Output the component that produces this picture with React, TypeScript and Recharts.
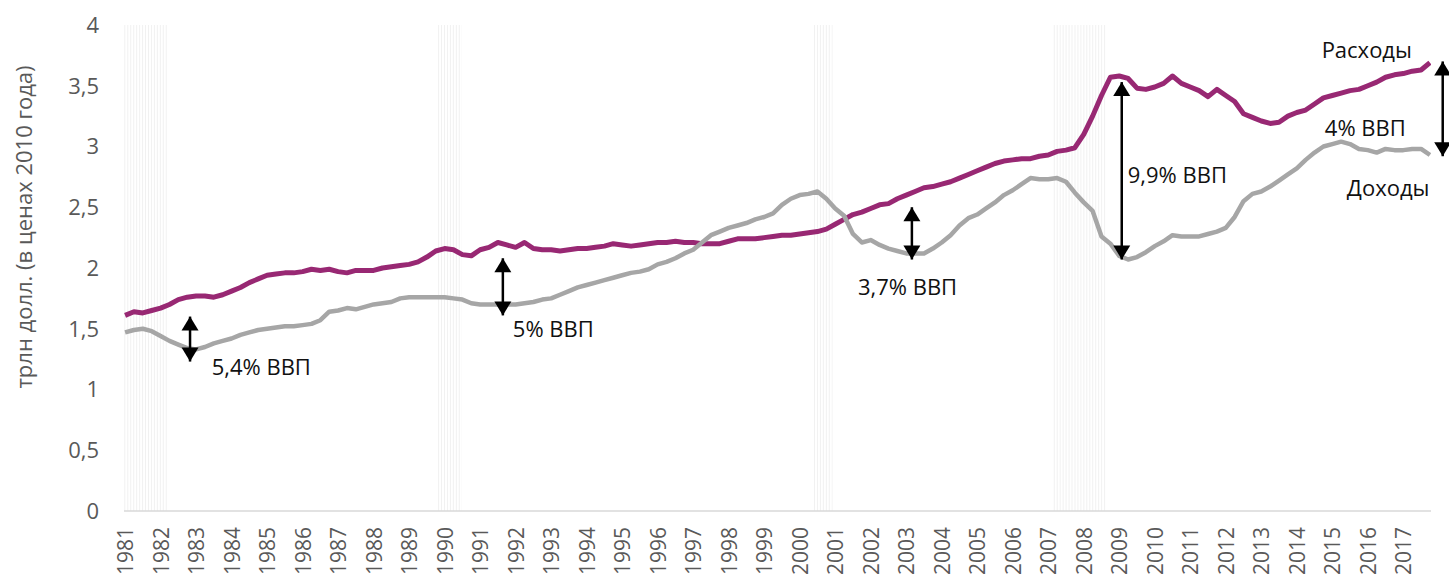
import React from 'react';
import {
  ComposedChart,
  Line,
  XAxis,
  YAxis,
  ReferenceArea,
  ReferenceLine,
  ReferenceDot,
} from 'recharts';

// Quarterly observations, first quarter of 1981 to last quarter of 2017
const startYear = 1981;

// Federal outlays ("Расходы"), trillions of 2010 dollars
const expenses = [
  1.61, 1.64, 1.63, 1.65,
  1.67, 1.70, 1.74, 1.76,
  1.77, 1.77, 1.76, 1.78,
  1.81, 1.84, 1.88, 1.91,
  1.94, 1.95, 1.96, 1.96,
  1.97, 1.99, 1.98, 1.99,
  1.97, 1.96, 1.98, 1.98,
  1.98, 2.00, 2.01, 2.02,
  2.03, 2.05, 2.09, 2.14,
  2.16, 2.15, 2.11, 2.10,
  2.15, 2.17, 2.21, 2.19,
  2.17, 2.21, 2.16, 2.15,
  2.15, 2.14, 2.15, 2.16,
  2.16, 2.17, 2.18, 2.20,
  2.19, 2.18, 2.19, 2.20,
  2.21, 2.21, 2.22, 2.21,
  2.21, 2.20, 2.20, 2.20,
  2.22, 2.24, 2.24, 2.24,
  2.25, 2.26, 2.27, 2.27,
  2.28, 2.29, 2.30, 2.32,
  2.36, 2.40, 2.44, 2.46,
  2.49, 2.52, 2.53, 2.57,
  2.60, 2.63, 2.66, 2.67,
  2.69, 2.71, 2.74, 2.77,
  2.80, 2.83, 2.86, 2.88,
  2.89, 2.90, 2.90, 2.92,
  2.93, 2.96, 2.97, 2.99,
  3.10, 3.25, 3.42, 3.57,
  3.58, 3.56, 3.48, 3.47,
  3.49, 3.52, 3.58, 3.52,
  3.49, 3.46, 3.41, 3.47,
  3.42, 3.37, 3.27, 3.24,
  3.21, 3.19, 3.20, 3.25,
  3.28, 3.30, 3.35, 3.40,
  3.42, 3.44, 3.46, 3.47,
  3.50, 3.53, 3.57, 3.59,
  3.60, 3.62, 3.63, 3.69,
];

// Federal receipts ("Доходы"), trillions of 2010 dollars
const revenues = [
  1.47, 1.49, 1.50, 1.48,
  1.44, 1.40, 1.37, 1.34,
  1.33, 1.35, 1.38, 1.40,
  1.42, 1.45, 1.47, 1.49,
  1.50, 1.51, 1.52, 1.52,
  1.53, 1.54, 1.57, 1.64,
  1.65, 1.67, 1.66, 1.68,
  1.70, 1.71, 1.72, 1.75,
  1.76, 1.76, 1.76, 1.76,
  1.76, 1.75, 1.74, 1.71,
  1.70, 1.70, 1.70, 1.70,
  1.70, 1.71, 1.72, 1.74,
  1.75, 1.78, 1.81, 1.84,
  1.86, 1.88, 1.90, 1.92,
  1.94, 1.96, 1.97, 1.99,
  2.03, 2.05, 2.08, 2.12,
  2.15, 2.21, 2.27, 2.30,
  2.33, 2.35, 2.37, 2.40,
  2.42, 2.45, 2.52, 2.57,
  2.60, 2.61, 2.63, 2.57,
  2.49, 2.43, 2.28, 2.21,
  2.23, 2.19, 2.16, 2.14,
  2.12, 2.12, 2.12, 2.16,
  2.21, 2.27, 2.35, 2.41,
  2.44, 2.49, 2.54, 2.60,
  2.64, 2.69, 2.74, 2.73,
  2.73, 2.74, 2.71, 2.62,
  2.54, 2.47, 2.26, 2.20,
  2.10, 2.07, 2.09, 2.13,
  2.18, 2.22, 2.27, 2.26,
  2.26, 2.26, 2.28, 2.30,
  2.33, 2.42, 2.55, 2.61,
  2.63, 2.67, 2.72, 2.77,
  2.82, 2.89, 2.95, 3.00,
  3.02, 3.04, 3.02, 2.98,
  2.97, 2.95, 2.98, 2.97,
  2.97, 2.98, 2.98, 2.93,
];

const yearTicks = [
  1981, 1982, 1983, 1984, 1985, 1986, 1987, 1988, 1989, 1990, 1991, 1992,
  1993, 1994, 1995, 1996, 1997, 1998, 1999, 2000, 2001, 2002, 2003, 2004,
  2005, 2006, 2007, 2008, 2009, 2010, 2011, 2012, 2013, 2014, 2015, 2016, 2017,
];
const valueTicks = [0, 0.5, 1, 1.5, 2, 2.5, 3, 3.5, 4];

// Recession periods (shaded)
const recessionStarts = [1980.97, 1989.78, 2000.37, 2007.13];
const recessionEnds = [1982.18, 1990.49, 2000.93, 2008.65];

// Gap arrows: position in time, lower and upper value
const arrowTimes = [1982.83, 1991.64, 2003.16, 2009.07, 2018.11];
const arrowLows = [1.23, 1.61, 2.07, 2.07, 2.92];
const arrowHighs = [1.6, 2.08, 2.5, 3.53, 3.7];

// Text notes
const noteTexts = ['5,4% ВВП', '5% ВВП', '3,7% ВВП', '9,9% ВВП', '4% ВВП', 'Расходы', 'Доходы'];
const noteTimes = [1983.44, 1991.92, 2001.64, 2009.24, 2014.79, 2014.7, 2015.41];
const noteValues = [1.195, 1.51, 1.85, 2.77, 3.16, 3.8, 2.67];

const data = expenses.map((v, i) => ({
  t: startYear + i / 4,
  expenses: v,
  revenues: revenues[i],
}));

const FONT = '"Open Sans", "Segoe UI", sans-serif';
const PURPLE = '#982873';
const GREY = '#a6a6a6';

const YearTick = (props: any) => {
  const { x, y, payload } = props;
  return (
    <text
      x={x}
      y={y}
      transform={`rotate(-90 ${x} ${y})`}
      textAnchor="end"
      dominantBaseline="central"
      fill="#595959"
      fontSize={21}
      fontFamily={FONT}
    >
      {payload.value}
    </text>
  );
};

const UpHead = (props: any) => {
  const { cx, cy } = props;
  return <polygon points={`${cx},${cy} ${cx - 8.5},${cy + 14} ${cx + 8.5},${cy + 14}`} fill="#000" />;
};
const DownHead = (props: any) => {
  const { cx, cy } = props;
  return <polygon points={`${cx},${cy} ${cx - 8.5},${cy - 14} ${cx + 8.5},${cy - 14}`} fill="#000" />;
};

const makeNote = (text: string) => (props: any) => {
  const { cx, cy } = props;
  return (
    <text
      x={cx}
      y={cy}
      textAnchor="start"
      dominantBaseline="central"
      fill="#111"
      fontSize={22}
      fontFamily={FONT}
    >
      {text}
    </text>
  );
};

const YTitle = (props: any) => {
  const vb = props.viewBox || { x: 0, y: 25, width: 124, height: 486 };
  const x = vb.x + 23;
  const y = vb.y + 202;
  return (
    <text
      x={x}
      y={y}
      transform={`rotate(-90 ${x} ${y})`}
      textAnchor="middle"
      dominantBaseline="central"
      fill="#595959"
      fontSize={22}
      fontFamily={FONT}
    >
      трлн долл. (в ценах 2010 года)
    </text>
  );
};

export default function App() {
  return (
    <div style={{ position: 'absolute', left: 0, top: 0, width: 1449, height: 576, background: '#fff' }}>
      <ComposedChart
        width={1449}
        height={576}
        data={data}
        margin={{ top: 25, right: 18, bottom: 0, left: 0 }}
      >
        <defs>
          <pattern id="recess" patternUnits="userSpaceOnUse" width={2.96} height={10}>
            <rect x={0} y={0} width={1} height={10} fill="#f1f1f1" />
          </pattern>
        </defs>
        <XAxis
          dataKey="t"
          type="number"
          domain={[1980.97, 2017.78]}
          ticks={yearTicks}
          interval={0}
          height={65}
          tickLine={false}
          tickSize={0}
          tickMargin={16}
          axisLine={{ stroke: '#d9d9d9', strokeWidth: 1.5 }}
          tick={<YearTick />}
          allowDataOverflow
        />
        <YAxis
          type="number"
          domain={[0, 4]}
          ticks={valueTicks}
          width={124}
          axisLine={false}
          tickLine={false}
          tickSize={0}
          tickMargin={25}
          tick={{ fill: '#595959', fontSize: 22, fontFamily: FONT }}
          tickFormatter={(v: number) => String(v).replace('.', ',')}
          label={{ content: <YTitle /> }}
        />
        {recessionStarts.map((s, i) => (
          <ReferenceArea
            key={`r${i}`}
            x1={s}
            x2={recessionEnds[i]}
            y1={0}
            y2={4}
            fill="url(#recess)"
            fillOpacity={1}
            stroke="none"
            ifOverflow="visible"
          />
        ))}
        <Line
          type="linear"
          dataKey="expenses"
          stroke={PURPLE}
          strokeWidth={5}
          dot={false}
          strokeLinejoin="round"
          isAnimationActive={false}
        />
        <Line
          type="linear"
          dataKey="revenues"
          stroke={GREY}
          strokeWidth={4.5}
          dot={false}
          strokeLinejoin="round"
          isAnimationActive={false}
        />
        {arrowTimes.map((t, i) => (
          <ReferenceLine
            key={`a${i}`}
            segment={[
              { x: t, y: arrowLows[i] },
              { x: t, y: arrowHighs[i] },
            ]}
            stroke="#000"
            strokeWidth={2.5}
            ifOverflow="visible"
          />
        ))}
        {arrowTimes.map((t, i) => (
          <ReferenceDot
            key={`u${i}`}
            x={t}
            y={arrowHighs[i]}
            r={1}
            ifOverflow="visible"
            shape={<UpHead />}
          />
        ))}
        {arrowTimes.map((t, i) => (
          <ReferenceDot
            key={`d${i}`}
            x={t}
            y={arrowLows[i]}
            r={1}
            ifOverflow="visible"
            shape={<DownHead />}
          />
        ))}
        {noteTexts.map((txt, i) => (
          <ReferenceDot
            key={`n${i}`}
            x={noteTimes[i]}
            y={noteValues[i]}
            r={1}
            ifOverflow="visible"
            shape={makeNote(txt)}
          />
        ))}
      </ComposedChart>
    </div>
  );
}
